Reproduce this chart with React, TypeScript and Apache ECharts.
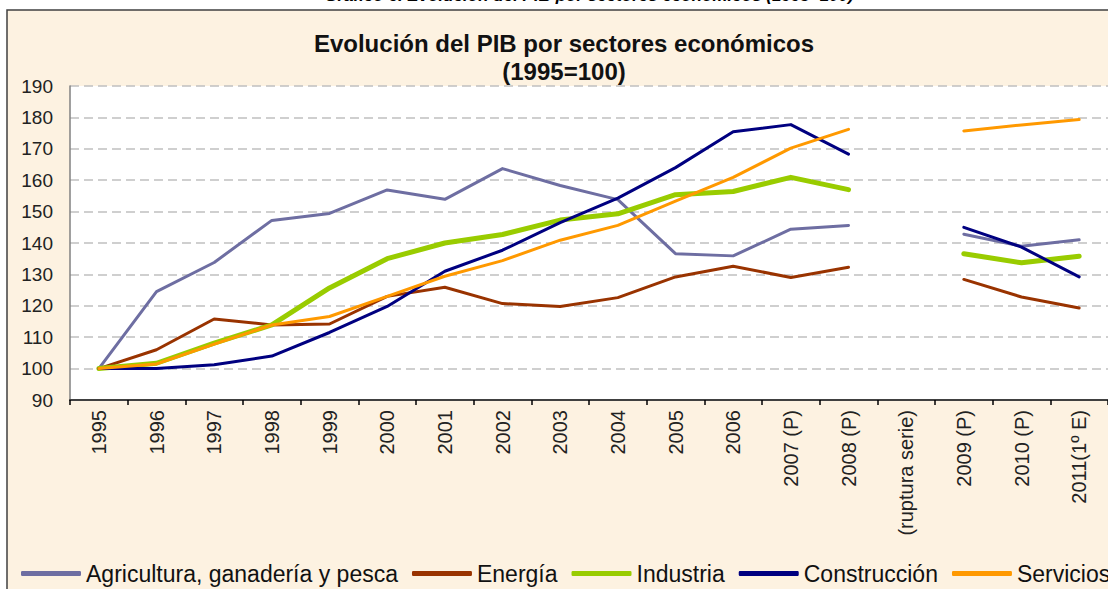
import React, { useEffect, useRef } from "react";
import * as echarts from "echarts";

const categories = [
  "1995", "1996", "1997", "1998", "1999", "2000", "2001", "2002", "2003", "2004",
  "2005", "2006", "2007 (P)", "2008 (P)", "(ruptura serie)", "2009 (P)", "2010 (P)", "2011(1º E)",
];
const seriesNames = [
  "Agricultura, ganadería y pesca", "Energía", "Industria", "Construcción", "Servicios",
];
const agricultura = [100, 124.5, 133.8, 147.2, 149.4, 156.9, 153.9, 163.7, 158.3, 153.8, 136.6, 135.9, 144.4, 145.6, null, 142.8, 139, 141];
const energia = [100, 106, 115.8, 113.9, 114.2, 123, 125.9, 120.7, 119.8, 122.6, 129.2, 132.6, 129, 132.3, null, 128.4, 122.8, 119.3];
const industria = [100, 101.7, 108.1, 113.9, 125.7, 135, 140, 142.7, 147.3, 149.3, 155.4, 156.4, 160.9, 157, null, 136.6, 133.7, 135.8];
const construccion = [100, 100, 101.2, 104, 111.5, 119.8, 131, 137.7, 146.5, 154.3, 164, 175.4, 177.7, 168.3, null, 145, 138.7, 129.2];
const servicios = [100, 101.5, 107.8, 113.9, 116.6, 123, 129.4, 134.4, 140.9, 145.6, 153.3, 160.9, 170.2, 176.2, null, 175.7, 177.6, 179.3];
const yTicks = { min: 90, max: 190, interval: 10 };

const colors = ["#6E6EA2", "#993300", "#99CC00", "#000080", "#FF9900"];
const widths = [3, 3, 5, 3, 3];
const FONT = "'Liberation Sans', Arial, sans-serif";

export default function App() {
  const ref = useRef<HTMLDivElement>(null);
  useEffect(() => {
    document.body.style.margin = "0";
    document.body.style.overflow = "hidden";
    const chart = echarts.init(ref.current!, null, { renderer: "svg" });
    const data = [agricultura, energia, industria, construccion, servicios];
    chart.setOption({
      animation: false,
      backgroundColor: "#ffffff",
      textStyle: { fontFamily: FONT },
      title: {
        text: "Evolución del PIB por sectores económicos",
        subtext: "(1995=100)",
        left: 559,
        textAlign: "center",
        top: 25,
        itemGap: 2,
        textStyle: { fontFamily: FONT, fontSize: 24, lineHeight: 26, fontWeight: "bold", color: "#111" },
        subtextStyle: { fontFamily: FONT, fontSize: 24, lineHeight: 26, fontWeight: "bold", color: "#111" },
      },
      graphic: [
        {
          type: "rect",
          z: -100,
          silent: true,
          shape: { x: 7, y: 10, width: 1120, height: 600 },
          style: { fill: "#FDF2E1", stroke: "#404040", lineWidth: 1.5 },
        },
        {
          type: "text",
          x: 589,
          y: 4,
          style: {
            text: "Gráfico 6. Evolución del PIB por sectores económicos (1995=100)",
            font: "italic bold 17px 'Liberation Sans', Arial, sans-serif",
            fill: "#000",
            textAlign: "center",
            textVerticalAlign: "bottom",
          },
        },
      ],
      legend: {
        data: seriesNames,
        left: 16,
        top: 557,
        width: 1500,
        itemGap: 14,
        itemWidth: 60,
        itemHeight: 5,
        icon: "roundRect",
        textStyle: { fontFamily: FONT, fontSize: 23, color: "#111" },
      },
      grid: {
        left: 70,
        right: 0,
        top: 86,
        bottom: 189,
        show: true,
        backgroundColor: "#ffffff",
        borderWidth: 0,
      },
      xAxis: {
        type: "category",
        data: categories,
        boundaryGap: true,
        axisLine: { show: true, lineStyle: { color: "#404040", width: 2 } },
        axisTick: { show: true, length: 5, lineStyle: { color: "#000", width: 1.5 } },
        axisLabel: {
          rotate: 90,
          interval: 0,
          margin: 10,
          fontSize: 20,
          color: "#222",
          fontFamily: FONT,
        },
        splitLine: { show: false },
      },
      yAxis: {
        type: "value",
        min: yTicks.min,
        max: yTicks.max,
        interval: yTicks.interval,
        axisLine: { show: true, lineStyle: { color: "#808080", width: 1.5 } },
        axisTick: { show: false },
        axisLabel: { fontSize: 19, color: "#222", margin: 17, fontFamily: FONT },
        splitLine: {
          show: true,
          lineStyle: { color: "#C0C0C0", type: [9, 5], width: 1.5 },
        },
      },
      series: seriesNames.map((name, i) => ({
        name,
        type: "line",
        data: data[i],
        symbol: "none",
        connectNulls: false,
        color: colors[i],
        lineStyle: { color: colors[i], width: widths[i], cap: "round", join: "round" },
        itemStyle: { color: colors[i] },
      })),
    });
    return () => chart.dispose();
  }, []);
  return <div ref={ref} style={{ width: 1108, height: 589 }} />;
}
